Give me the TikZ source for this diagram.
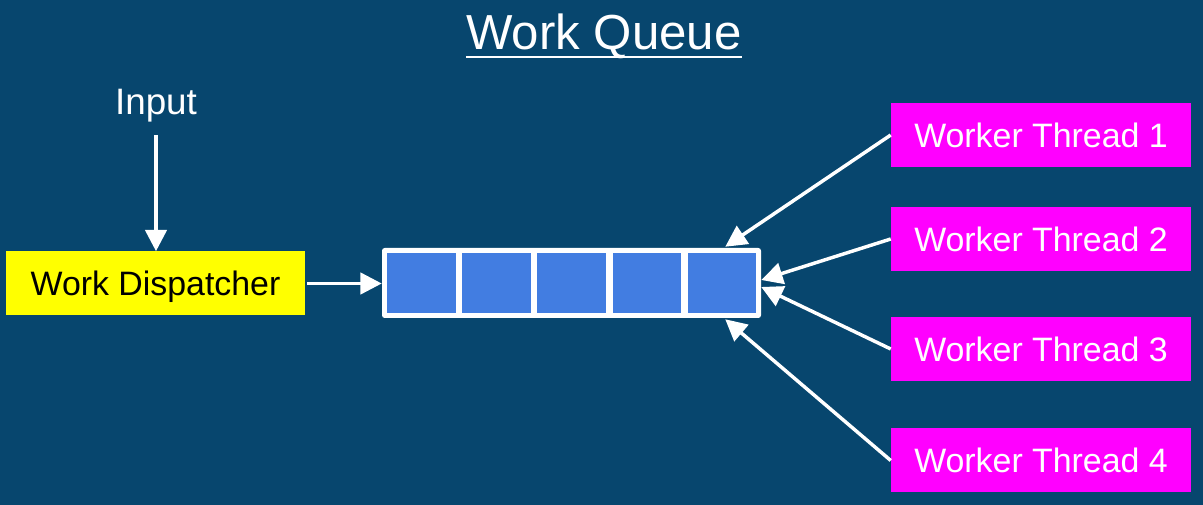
\documentclass[tikz,border=0pt]{standalone}
\usepackage{fontspec}
\setmainfont{Liberation Sans}
\usetikzlibrary{arrows.meta,calc}
\definecolor{bgblue}{RGB}{7,70,110}
\definecolor{cellblue}{RGB}{66,125,225}
\definecolor{magbox}{RGB}{255,0,255}
\definecolor{yelbox}{RGB}{255,255,0}
\tikzset{
  lbl/.style={font=\fontsize{25.4}{30}\selectfont},
  boxtext/.style={lbl, text height=18.2pt, text depth=0pt, inner sep=0pt},
  workerbox/.style={boxtext, fill=magbox, text=white, minimum width=225pt, minimum height=48pt},
  dispbox/.style={boxtext, fill=yelbox, text=black, minimum width=224.25pt, minimum height=48pt},
  cellbox/.style={fill=cellblue, minimum width=51.5pt, minimum height=45pt, inner sep=0pt},
  arr/.style={draw=white, line width=2.6pt, -{Triangle[length=16pt,width=16pt]}},
}
\begin{document}
\begin{tikzpicture}[x=0.75pt,y=-0.75pt]
\fill[bgblue] (0,0) rectangle (1203,505);
\useasboundingbox (0,0) rectangle (1203,505);
% title
\node[font=\fontsize{36.9}{44}\selectfont, text=white, anchor=base, inner sep=0pt] (title) at (604,50) {Work Queue};
\draw[white, line width=2pt] ($(title.base west)+(0,7)$) -- ($(title.base east)+(0,7)$);
% input
\node[font=\fontsize{27.6}{33}\selectfont, text=white, anchor=base, inner sep=0pt] (input) at (156,115) {Input};
% dispatcher
\node[dispbox] (disp) at (155.5,283.5) {Work Dispatcher};
% queue
\node[fill=white, rounded corners=2pt, minimum width=284.25pt, minimum height=52.5pt, inner sep=0pt] (q) at (571.5,283) {};
\foreach \i in {0,...,4} {
  \node[cellbox] (c\i) at ({421.3+\i*75.2},283) {};
}
% workers
\node[workerbox] (w1) at (1041,135) {Worker Thread 1};
\node[workerbox] (w2) at (1041,239) {Worker Thread 2};
\node[workerbox] (w3) at (1041,349) {Worker Thread 3};
\node[workerbox] (w4) at (1041,460.5) {Worker Thread 4};
% arrows
\coordinate (inTop) at ($(input.base)+(0,20)$);
\draw[arr] (inTop) -- (disp.north -| inTop);
\coordinate (dStart) at ($(disp.east)+(2,0)$);
\draw[arr] (dStart) -- (q.west |- dStart);
\coordinate (t1) at ($(q.north east)+(-36,-1)$);
\coordinate (t2) at ($(q.east)+(0,-3)$);
\coordinate (t3) at ($(q.east)+(0,4)$);
\coordinate (t4) at ($(q.south east)+(-36,1)$);
\draw[arr] (w1.west) -- (t1);
\draw[arr] (w2.west) -- (t2);
\draw[arr] (w3.west) -- (t3);
\draw[arr] (w4.west) -- (t4);
\end{tikzpicture}
\end{document}
